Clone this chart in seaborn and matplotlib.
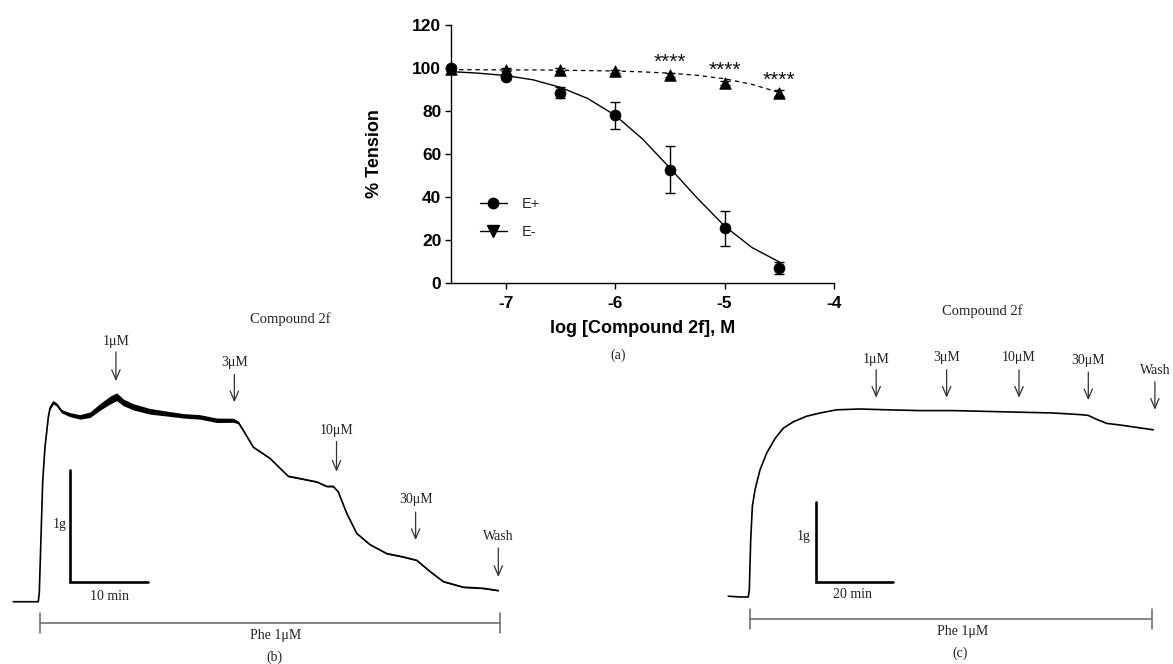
import numpy as np
import pandas as pd
import matplotlib
matplotlib.use("Agg")
import matplotlib.pyplot as plt
import seaborn as sns
from matplotlib.lines import Line2D

# ---------------- Panel (a): concentration-response ----------------
log_conc = [-7.5, -7.0, -6.5, -6.0, -5.5, -5.0, -4.5]
e_plus = [100.0, 95.7, 88.6, 78.0, 52.7, 25.4, 7.0]
e_plus_sem = [0.8, 1.0, 2.5, 6.3, 10.9, 8.1, 2.8]
e_minus = [99.5, 99.3, 99.2, 98.4, 96.7, 93.0, 88.4]
e_minus_sem = [0.5, 0.6, 0.6, 0.7, 0.8, 1.0, 1.2]

fit_x = [-7.5, -7.25, -7.0, -6.75, -6.5, -6.25, -6.0, -5.75, -5.5, -5.25, -5.0, -4.75, -4.5]
fit_e_plus = [98.3, 97.6, 96.5, 94.5, 91.0, 85.8, 78.0, 67.0, 53.5, 39.5, 26.5, 16.5, 9.8]
fit_e_minus = [99.2, 99.2, 99.1, 99.1, 99.0, 98.8, 98.6, 98.2, 97.6, 96.6, 95.0, 92.4, 88.6]

star_x = [-5.5, -5.0, -4.5]
star_y = [96.7, 93.0, 88.4]
star_labels = ["****", "****", "****"]

x_ticks = [-7, -6, -5, -4]
y_ticks = [0, 20, 40, 60, 80, 100, 120]

# ---------------- Panel (b): trace with endothelium ----------------
trace_b_t = [-3.35, -0.13, 0.0, 0.18, 0.44, 0.73, 1.16, 1.38, 1.80, 2.24, 2.88, 3.95,
             5.24, 6.53, 7.82, 9.10, 9.96, 10.81, 12.10, 14.25, 16.40, 18.53, 20.68,
             22.83, 24.97, 25.61, 26.25, 27.54, 29.69, 32.05, 33.55, 35.70, 36.99,
             37.84, 38.48, 39.56, 40.85, 42.56, 44.71, 46.85, 48.57, 50.28, 51.99,
             54.57, 57.14, 59.07]
trace_b_g = [0.00, 0.00, 0.08, 0.49, 1.08, 1.38, 1.65, 1.73, 1.78, 1.76, 1.70, 1.67,
             1.65, 1.67, 1.74, 1.80, 1.83, 1.78, 1.74, 1.70, 1.68, 1.66, 1.65,
             1.62, 1.62, 1.60, 1.53, 1.38, 1.28, 1.12, 1.10, 1.07, 1.03,
             1.03, 0.98, 0.79, 0.61, 0.51, 0.43, 0.40, 0.37, 0.27, 0.18,
             0.13, 0.12, 0.10]
trace_b_noise = [0.0, 0.0, 0.0, 0.0, 0.0, 0.005, 0.010, 0.012, 0.015, 0.015, 0.015, 0.018,
                 0.020, 0.025, 0.030, 0.035, 0.035, 0.030, 0.028, 0.025, 0.022, 0.020, 0.020,
                 0.020, 0.018, 0.012, 0.008, 0.005, 0.005, 0.005, 0.005, 0.005, 0.005,
                 0.005, 0.005, 0.005, 0.005, 0.005, 0.005, 0.005, 0.005, 0.005, 0.005,
                 0.005, 0.005, 0.005]
b_doses = ["1\u03bcM", "3\u03bcM", "10\u03bcM", "30\u03bcM", "Wash"]
b_arrow_t = [9.86, 25.1, 38.25, 48.43, 59.07]
b_arrow_top = [2.23, 2.03, 1.43, 0.80, 0.48]
b_arrow_bot = [1.97, 1.78, 1.16, 0.55, 0.22]
b_label_g = [2.32, 2.14, 1.53, 0.91, 0.58]

# ---------------- Panel (c): trace without endothelium ----------------
trace_c_t = [-5.51, -2.47, -0.31, -0.05, 0.31, 0.73, 1.43, 2.73, 4.47, 6.62, 8.78,
             11.38, 14.86, 18.31, 22.65, 28.70, 35.64, 44.29, 52.94, 61.61, 70.26,
             78.91, 85.84, 88.00, 90.18, 92.78, 96.23, 100.57, 104.88]
trace_c_g = [0.01, 0.00, 0.00, 0.09, 0.71, 1.13, 1.34, 1.59, 1.80, 1.98, 2.11,
             2.19, 2.26, 2.30, 2.34, 2.35, 2.34, 2.33, 2.33, 2.32, 2.31,
             2.30, 2.28, 2.27, 2.22, 2.17, 2.15, 2.12, 2.09]
c_doses = ["1\u03bcM", "3\u03bcM", "10\u03bcM", "30\u03bcM", "Wash"]
c_arrow_t = [32.9, 51.2, 70.0, 88.0, 105.3]
c_arrow_top = [2.84, 2.84, 2.84, 2.81, 2.69]
c_arrow_bot = [2.49, 2.49, 2.49, 2.46, 2.34]
c_label_g = [2.975, 2.99, 2.99, 2.96, 2.825]

# ---------------- style ----------------
sns.set_style("ticks")
plt.rcParams['font.family'] = ['Liberation Sans', 'DejaVu Sans']
SERIF = ['Liberation Serif', 'DejaVu Serif']
W, H = 1173, 664
fig = plt.figure(figsize=(W / 100, H / 100), dpi=100)

# ================= Panel (a) =================
ax = fig.add_axes([451 / W, 1 - 283 / H, 383 / W, 258 / H])
ax.patch.set_visible(False)
ax.set_zorder(3)

sns.lineplot(x=fit_x, y=fit_e_minus, ax=ax, color='k', lw=0.9,
             linestyle=(0, (3.5, 3)), sort=False, estimator=None, legend=False)
sns.lineplot(x=fit_x, y=fit_e_plus, ax=ax, color='k', lw=1.0,
             sort=False, estimator=None, legend=False)
ax.errorbar(log_conc, e_minus, yerr=e_minus_sem, fmt='none', ecolor='k',
            elinewidth=1.0, capsize=3.5, capthick=1.0, clip_on=False, zorder=3)
ax.errorbar(log_conc, e_plus, yerr=e_plus_sem, fmt='none', ecolor='k',
            elinewidth=1.0, capsize=3.5, capthick=1.0, clip_on=False, zorder=3)
sns.scatterplot(x=log_conc, y=e_minus, ax=ax, marker='^', s=70, color='k',
                edgecolor='k', linewidth=0.5, zorder=4, clip_on=False, legend=False)
sns.scatterplot(x=log_conc, y=e_plus, ax=ax, marker='o', s=62, color='k',
                edgecolor='k', linewidth=0.5, zorder=5, clip_on=False, legend=False)

for sx, sy, sl in zip(star_x, star_y, star_labels):
    ax.annotate(sl, xy=(sx, sy), xytext=(0, 9), textcoords='offset points',
                ha='center', va='center', fontsize=15, color='#111')

ax.set_xlim(-7.5, -4)
ax.set_ylim(0, 120)
ax.set_xticks(x_ticks)
ax.set_yticks(y_ticks)
ax.set_xticklabels([str(t) for t in x_ticks])
ax.set_yticklabels([str(t) for t in y_ticks])
sns.despine(ax=ax)
for s in ['left', 'bottom']:
    ax.spines[s].set_linewidth(1.0)
    ax.spines[s].set_color('k')
ax.tick_params(axis='both', direction='out', length=4.5, width=1.0, color='k',
               labelsize=12.5, labelcolor='k')
ax.tick_params(axis='y', pad=2.5)
ax.tick_params(axis='x', pad=5)
for lab in ax.get_xticklabels() + ax.get_yticklabels():
    lab.set_fontweight('bold')
ax.set_xlabel("log [Compound 2f], M", fontsize=13, fontweight='bold', color='k')
ax.set_ylabel("% Tension", fontsize=13, fontweight='bold', color='k')
ax.xaxis.set_label_coords(0.5, -0.145)
ax.yaxis.set_label_coords(-0.178, 0.5)

handles = [Line2D([0], [0], color='k', lw=1.0, marker='o', markersize=7.5),
           Line2D([0], [0], color='k', lw=1.0, marker='v', markersize=8)]
ax.legend(handles, ["E+", "E-"], loc='upper left', bbox_to_anchor=(0.075, 0.333),
          frameon=False, fontsize=10.5, handlelength=1.85, handletextpad=1.0,
          labelspacing=0.95, borderpad=0, borderaxespad=0)

fig.text(618 / W, 1 - 355 / H, "(a)", ha='center', va='center', fontsize=10,
         family=SERIF, color='#222')

# ================= Panel (b) =================
axb = fig.add_axes([0, 0, 530 / W, 364 / H])
axb.patch.set_visible(False)
axb.set_xlim(-5.058, 63.15)
axb.set_ylim(-0.556, 2.694)
axb.axis('off')

tb = np.array(trace_b_t)
gb = np.array(trace_b_g)
nb = np.array(trace_b_noise)
axb.fill_between(tb, gb - nb, gb + nb, color='k', lw=0)
sns.lineplot(x=trace_b_t, y=trace_b_g, ax=axb, color='k', lw=1.2,
             sort=False, estimator=None, legend=False)

arrow_kw = dict(arrowstyle='->,head_length=0.7,head_width=0.3', lw=0.9,
                color='#333', shrinkA=0, shrinkB=0)
for lab, t, top, bot, lg in zip(b_doses, b_arrow_t, b_arrow_top, b_arrow_bot, b_label_g):
    axb.annotate('', xy=(t, bot), xytext=(t, top), arrowprops=arrow_kw)
    axb.text(t, lg, lab, ha='center', va='center', fontsize=10, family=SERIF, color='#222')

axb.text(32.26, 2.52, "Compound 2f", ha='center', va='center', fontsize=10.5,
         family=SERIF, color='#222')
# scale bars (1 g, 10 min)
axb.plot([3.95, 3.95, 13.95], [1.176, 0.176, 0.176], color='k', lw=1.9,
         solid_joinstyle='miter')
axb.text(2.66, 0.69, "1g", ha='center', va='center', fontsize=10, family=SERIF, color='#222')
axb.text(9.0, 0.05, "10 min", ha='center', va='center', fontsize=10, family=SERIF, color='#222')
# Phe bracket
axb.plot([0.08, 59.29], [-0.19, -0.19], color='#666', lw=1.1)
axb.plot([0.08, 0.08], [-0.105, -0.275], color='#666', lw=1.1)
axb.plot([59.29, 59.29], [-0.105, -0.275], color='#666', lw=1.1)
axb.text(30.4, -0.306, "Phe 1\u03bcM", ha='center', va='center', fontsize=10,
         family=SERIF, color='#222')
axb.text(30.3, -0.494, "(b)", ha='center', va='center', fontsize=10,
         family=SERIF, color='#222')

# ================= Panel (c) =================
axc = fig.add_axes([700 / W, 0, 473 / W, 374 / H])
axc.patch.set_visible(False)
axc.set_xlim(-12.86, 110.0)
axc.set_ylim(-0.8375, 3.8375)
axc.axis('off')

sns.lineplot(x=trace_c_t, y=trace_c_g, ax=axc, color='k', lw=1.2,
             sort=False, estimator=None, legend=False)
for lab, t, top, bot, lg in zip(c_doses, c_arrow_t, c_arrow_top, c_arrow_bot, c_label_g):
    axc.annotate('', xy=(t, bot), xytext=(t, top), arrowprops=arrow_kw)
    axc.text(t, lg, lab, ha='center', va='center', fontsize=10, family=SERIF, color='#222')

axc.text(60.4, 3.575, "Compound 2f", ha='center', va='center', fontsize=10.5,
         family=SERIF, color='#222')
axc.plot([17.27, 17.27, 37.27], [1.19, 0.19, 0.19], color='k', lw=1.9,
         solid_joinstyle='miter')
axc.text(13.97, 0.754, "1g", ha='center', va='center', fontsize=10, family=SERIF, color='#222')
axc.text(26.8, 0.0375, "20 min", ha='center', va='center', fontsize=10, family=SERIF, color='#222')
axc.plot([0.13, 104.47], [-0.275, -0.275], color='#666', lw=1.1)
axc.plot([0.13, 0.13], [-0.156, -0.394], color='#666', lw=1.1)
axc.plot([104.47, 104.47], [-0.156, -0.394], color='#666', lw=1.1)
axc.text(55.45, -0.4375, "Phe 1\u03bcM", ha='center', va='center', fontsize=10,
         family=SERIF, color='#222')
axc.text(54.7, -0.70, "(c)", ha='center', va='center', fontsize=10,
         family=SERIF, color='#222')

fig.savefig("out.png", dpi=100, facecolor='white')
